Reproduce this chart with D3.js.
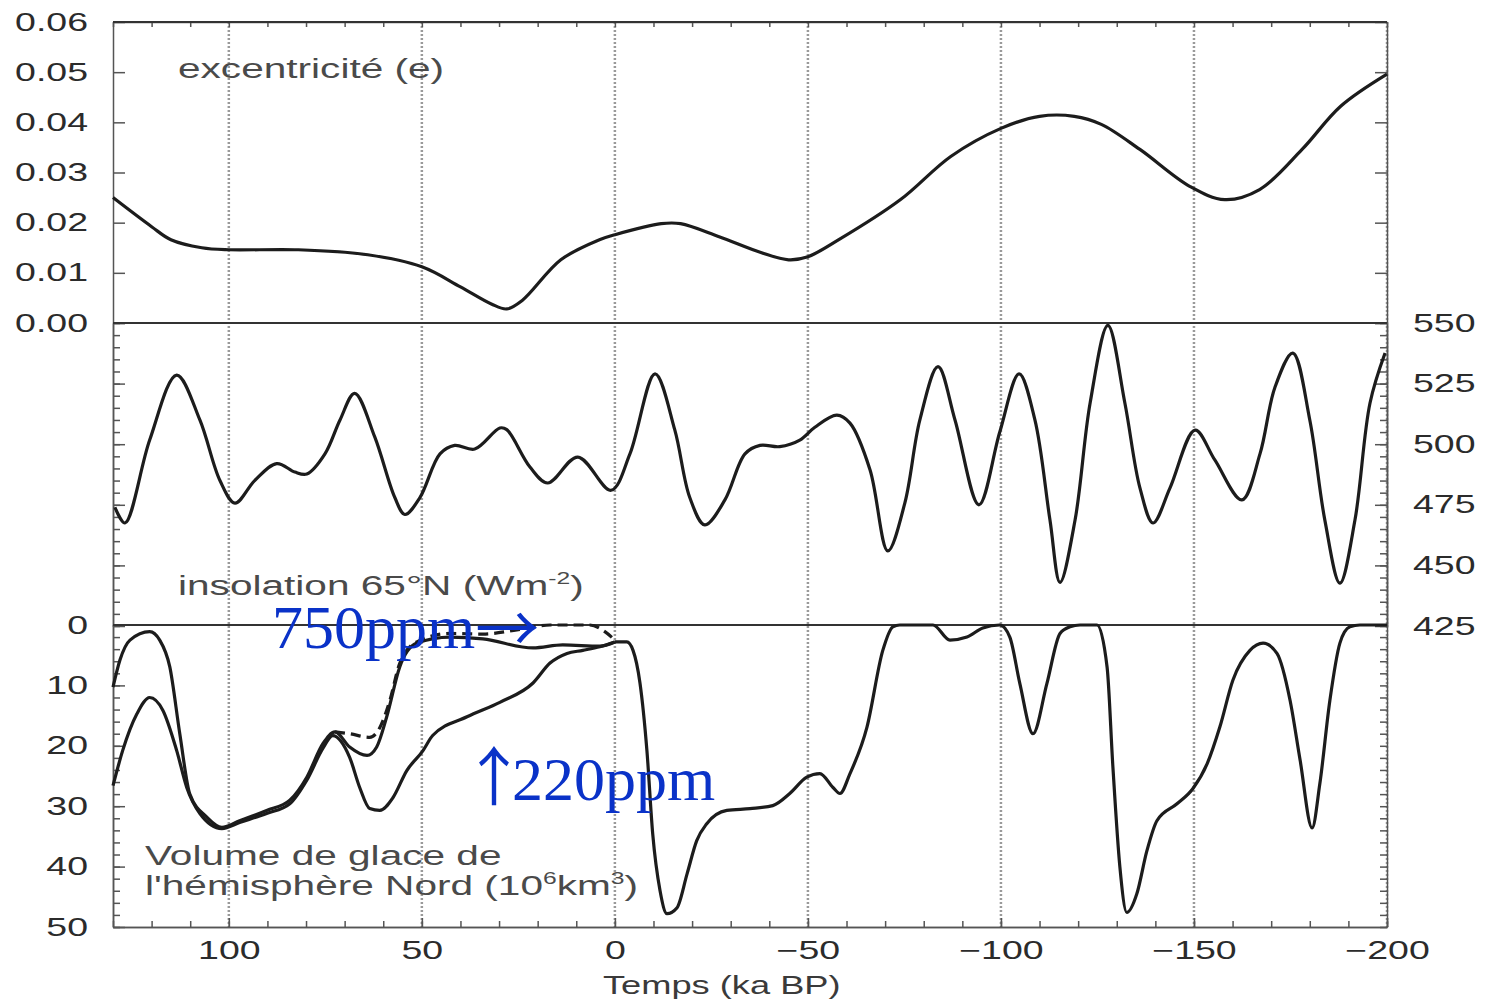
<!DOCTYPE html>
<html>
<head>
<meta charset="utf-8">
<script src="https://cdn.jsdelivr.net/npm/d3@7"></script>
<style>
body{margin:0;background:#fff;}
svg{display:block;}
</style>
</head>
<body>
<svg id="chart"></svg>
<script>
// time in ka BP (positive = past, negative = future)
var xTicks = [100, 50, 0, -50, -100, -150, -200];
var eccTicks = [0, 0.01, 0.02, 0.03, 0.04, 0.05, 0.06];
var insTicks = [425, 450, 475, 500, 525, 550];
var iceTicks = [0, 10, 20, 30, 40, 50];

// excentricite
var eccTime = [130, 120, 115, 107, 100, 82, 64, 50, 40, 32, 28, 24, 14, 4, 0, -12, -17, -27, -38, -45,
  -50, -58, -74, -87, -100, -110, -119, -126, -136, -149, -158, -167, -178, -188, -200];
var eccVal = [0.025, 0.0192, 0.0166, 0.015, 0.0146, 0.0146, 0.0136, 0.0112, 0.0072, 0.0038, 0.0028, 0.0045,
  0.0126, 0.0166, 0.0176, 0.0198, 0.0198, 0.0172, 0.014, 0.0126, 0.0132, 0.0166, 0.0246, 0.0332, 0.0388,
  0.0412, 0.0412, 0.0396, 0.0346, 0.0272, 0.0246, 0.0266, 0.0346, 0.0432, 0.0496];

// insolation 65N
var insTime = [129.5, 126.9, 120.5, 113.5, 107.5, 102.3, 98.4, 93.3, 87.6, 82.9, 79.8, 75.1, 71.2, 67.4, 62.2,
  57, 54.4, 50.5, 45.3, 41.5, 36.3, 29.8, 28, 22, 17.4, 9.6, 1, -3.9, -10.4, -15.5, -19.4, -23.3, -28.5,
  -33.7, -37.6, -42.7, -47.9, -51.8, -57.5, -60.9, -66.1, -70.7, -75.1, -79, -83.7, -88.1, -94.3, -99.7,
  -104.7, -108.8, -112.7, -115.3, -119.2, -123.1, -127.7, -132.1, -136, -139.4, -143.8, -150.3, -155.4,
  -162.4, -167.1, -171, -175.6, -180, -183.9, -187.8, -191.7, -195.6, -199.5];
var insVal = [474, 467.5, 501.7, 528.5, 510, 485, 475.7, 485, 492, 488.5, 487.7, 496, 510, 521, 503,
  478, 471, 478, 496, 499.5, 498, 506.7, 506, 490.6, 484, 494.7, 481, 496, 529, 506, 478, 466.7, 477,
  496, 499.5, 499, 501.7, 507, 512, 508.7, 489.4, 456, 475.7, 510, 532, 510, 475, 505,
  529, 510, 468.7, 443, 468.7, 517, 549, 517, 482, 467.5, 482, 505.8, 493.5,
  477, 496, 523.6, 537.6, 510, 468.7, 442.7, 468.7, 517, 537.6];

// volume de glace - passe, trois simulations
var iceATime = [130, 128.2, 125.6, 120.5, 117.9, 115.3, 112.7, 110.1, 105.7, 101.8, 97.2, 90.2, 84.2, 79.8,
  75.6, 72.5, 68.7, 64.2, 61.7, 59.1, 55.7, 51.3, 42.7, 34.2, 21.2, 13.5, 3.9, 0];
var iceAVal = [10.3, 5.8, 2.5, 1.1, 2.5, 6.9, 18, 28, 31.8, 33.5, 32.4, 30.7, 29, 25.2,
  19.6, 17.7, 20.2, 21.6, 20.2, 15.2, 6.9, 3, 2, 2.3, 3.8, 3.3, 3.5, 2.8];

// 750 ppm (tirets)
var ice750Time = [72.5, 68.7, 63.5, 60.9, 58.3, 55.7, 51.3, 42.7, 34.2, 25.4, 16.8, 6.5, 2.6, 0];
var ice750Val = [17.7, 18, 18.6, 17, 12.5, 6.3, 2.8, 1.4, 1.5, 0.8, 0, 0, 1.1, 2.5];

// 220 ppm
var ice220Time = [130, 127.5, 123.8, 120.5, 117.1, 113.5, 110.9, 107.5, 101.8, 97.2, 90.2, 84.2, 79.8, 75.6,
  73.1, 68.7, 66.1, 63.5, 60.9, 57.5, 53.9, 49.7, 47.2, 38.3, 29.8, 21.2, 16.8, 12.4, 8.3, 3.9, 0];
var ice220Val = [26.6, 20.8, 14.7, 12, 14.1, 20.8, 26.9, 31.2, 33.7, 32.7, 31.2, 29.6, 25.7, 20.4,
  18.3, 21.9, 26.9, 30.4, 30.7, 28.6, 24.1, 20.8, 18.3, 15.2, 12.8, 9.6, 6.3, 4.7, 4.2, 3.6, 2.8];

// futur
var iceFTime = [0, -3.1, -4.7, -6.5, -8.3, -9.8, -11.7, -13.5, -16.1, -18.7, -21.2, -23.8, -29, -35, -40.9,
  -45.3, -49.7, -53.1, -56.5, -58.3, -60.9, -65.3, -69.4, -72, -73.8, -82.4, -86.8, -91.2, -95.3, -99.7,
  -102.3, -104.9, -108.3, -111.9, -115.3, -117.9, -120.5, -124.9, -127.5, -129, -130.8, -132.6, -135.2,
  -137.8, -140.4, -145.6, -149.7, -153.4, -156.7, -160.1, -164.5, -167.9, -171.5, -174.9, -177.5, -180.6,
  -182.6, -185.2, -187.8, -190.4, -193, -200];
var iceFVal = [2.8, 2.8, 4.2, 9.6, 20.8, 34.6, 44, 47.8, 46.8, 41.2, 35.7, 32.9, 30.7, 30.4, 29.9,
  27.9, 25.2, 24.6, 26.9, 27.9, 24.6, 16.9, 4.2, 0.3, 0, 0, 2.5, 2, 0.5, 0,
  2, 9.7, 18, 9.7, 1.4, 0.3, 0, 0, 7, 23.5, 40, 47.6, 44.5,
  37.4, 32.4, 29.6, 27.1, 23, 16.9, 9.1, 4.2, 3, 4.7, 12.5, 22.4, 33.6,
  26.3, 12.5, 3, 0.3, 0, 0];

var svg = d3.select("#chart").attr("width", 1488).attr("height", 1001);

var x = d3.scaleLinear().domain([130, -200]).range([113, 1387]);
var yEcc = d3.scaleLinear().domain([0, 0.06]).range([323, 22]);
var yIns = d3.scaleLinear().domain([425, 550]).range([626, 323]);
var yIce = d3.scaleLinear().domain([0, 50]).range([625, 927]);

var sans = "'Liberation Sans', Arial, Helvetica, sans-serif";
var K = 1.5; // scan is stretched horizontally

// grille pointillee
svg.append("g").selectAll("line")
  .data(xTicks).enter().append("line")
  .attr("x1", function(d){ return x(d); })
  .attr("x2", function(d){ return x(d); })
  .attr("y1", 22).attr("y2", 927)
  .attr("stroke", "#9a9a9a").attr("stroke-width", 2.5)
  .attr("stroke-dasharray", "2,2");

function styleAxis(g) {
  g.attr("font-family", sans).attr("font-size", 25);
  g.selectAll("path, line").attr("stroke", "#555").attr("stroke-width", 1.5);
  g.selectAll("text").attr("fill", "#2b2b2b").each(function(){
    var t = d3.select(this);
    var tx = +t.attr("x") || 0;
    t.attr("x", tx / K).attr("transform", "scale(" + K + ",1)");
  });
}

function minor(axis, vals, size, tx, ty) {
  svg.append("g").attr("transform", "translate(" + tx + "," + ty + ")")
    .call(axis.tickValues(vals).tickSize(size).tickSizeOuter(0).tickFormat(""))
    .call(styleAxis);
}

// panneau excentricite
svg.append("g").attr("transform", "translate(113,0)")
  .call(d3.axisLeft(yEcc).tickValues(eccTicks).tickSize(-12).tickSizeOuter(0)
    .tickPadding(25).tickFormat(d3.format(".2f")))
  .call(styleAxis);
minor(d3.axisRight(yEcc), eccTicks, -12, 1387, 0);

// panneau insolation
minor(d3.axisLeft(yIns), d3.range(425, 551, 5), -7, 113, 0);
minor(d3.axisLeft(yIns), insTicks, -12, 113, 0);
minor(d3.axisRight(yIns), d3.range(425, 551, 5), -7, 1387, 0);
svg.append("g").attr("transform", "translate(1387,0)")
  .call(d3.axisRight(yIns).tickValues(insTicks).tickSize(-12).tickSizeOuter(0).tickPadding(26))
  .call(styleAxis);

// panneau glace
minor(d3.axisLeft(yIce), d3.range(0, 51, 2), -7, 113, 0);
svg.append("g").attr("transform", "translate(113,0)")
  .call(d3.axisLeft(yIce).tickValues(iceTicks).tickSize(-12).tickSizeOuter(0).tickPadding(25))
  .call(styleAxis);
minor(d3.axisRight(yIce), d3.range(0, 51, 2), -7, 1387, 0);

// axe du temps
minor(d3.axisTop(x), d3.range(-200, 131, 10), -5, 0, 22);
minor(d3.axisBottom(x), d3.range(-200, 131, 10), -6, 0, 927);
svg.append("g").attr("transform", "translate(0,927)")
  .call(d3.axisBottom(x).tickValues(xTicks).tickSize(-9).tickSizeOuter(0).tickPadding(14))
  .call(styleAxis);

// cadre et separateurs
svg.append("g").selectAll("line")
  .data([yEcc(0.06), yEcc(0), yIce(0)]).enter().append("line")
  .attr("x1", x(130)).attr("x2", x(-200))
  .attr("y1", function(d){ return d; }).attr("y2", function(d){ return d; })
  .attr("stroke", "#333").attr("stroke-width", 1.8);

// courbes
function curveLine(times, vals, yScale, curve, dash) {
  var pts = d3.zip(times, vals);
  var line = d3.line()
    .x(function(d){ return x(d[0]); })
    .y(function(d){ return yScale(d[1]); })
    .curve(curve);
  svg.append("path").datum(pts)
    .attr("d", line)
    .attr("fill", "none")
    .attr("stroke", "#1c1c1c")
    .attr("stroke-width", 3.2)
    .attr("stroke-linejoin", "round")
    .attr("stroke-dasharray", dash || null);
}

curveLine(eccTime, eccVal, yEcc, d3.curveCatmullRom.alpha(0.5));
curveLine(insTime, insVal, yIns, d3.curveCatmullRom.alpha(0.5));
curveLine(ice220Time, ice220Val, yIce, d3.curveMonotoneX);
curveLine(iceATime, iceAVal, yIce, d3.curveMonotoneX);
curveLine(ice750Time, ice750Val, yIce, d3.curveMonotoneX, "10,6");
curveLine(iceFTime, iceFVal, yIce, d3.curveMonotoneX);

// etiquettes
function label(px, py, size) {
  return svg.append("text")
    .attr("transform", "translate(" + px + "," + py + ") scale(1.45,1)")
    .attr("font-family", sans).attr("font-size", size)
    .attr("fill", "#4a4a4a");
}

label(178, 78, 28).text("excentricité (e)");

var ins = label(178, 595, 28).text("insolation 65°N (Wm");
ins.append("tspan").attr("font-size", 17).attr("dy", -11).text("-2");
ins.append("tspan").attr("dy", 11).text(")");

label(145, 865, 28).text("Volume de glace de");
var vol = label(145, 895, 28).text("l'hémisphère Nord (10");
vol.append("tspan").attr("font-size", 17).attr("dy", -11).text("6");
vol.append("tspan").attr("dy", 11).text("km");
vol.append("tspan").attr("font-size", 17).attr("dy", -11).text("3");
vol.append("tspan").attr("dy", 11).text(")");

label(603, 994, 25).attr("fill", "#3a3a3a").text("Temps (ka BP)");

// annotations CO2
var serif = "'Liberation Serif', 'Times New Roman', serif";
var arrowFont = "'Noto Sans CJK JP', 'DejaVu Sans', sans-serif";
var a750 = svg.append("text").attr("x", 272).attr("y", 648)
  .attr("font-family", serif).attr("font-size", 62).attr("fill", "#0a32c8")
  .text("750ppm");
a750.append("tspan").attr("font-family", arrowFont).attr("font-size", 64)
  .attr("dx", 0).attr("dy", 4).text("→");

var a220 = svg.append("text").attr("x", 462).attr("y", 800)
  .attr("font-family", serif).attr("font-size", 62).attr("fill", "#0a32c8");
a220.append("tspan").attr("font-family", arrowFont).attr("font-size", 64).text("↑");
a220.append("tspan").attr("dx", -14).text("220ppm");
</script>
</body>
</html>
